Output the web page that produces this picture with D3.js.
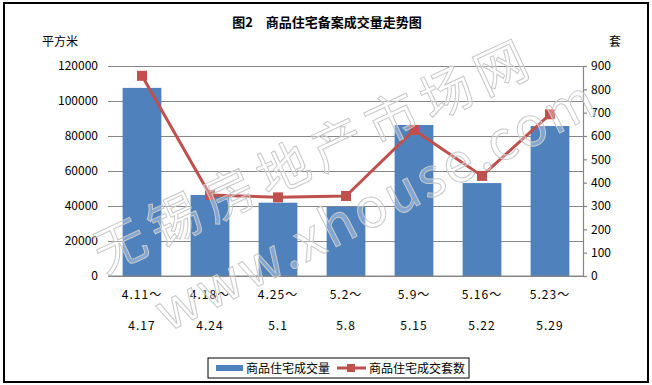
<!DOCTYPE html>
<html><head><meta charset="utf-8">
<script src="https://cdn.jsdelivr.net/npm/d3@7"></script>
<style>
body{margin:0;background:#fff;}
text{font-family:"Noto Sans CJK SC","DejaVu Sans",sans-serif;}
</style></head>
<body><svg id="c" width="652" height="385"></svg>
<script>
const categoriesTop = ["4.11～","4.18～","4.25～","5.2～","5.9～","5.16～","5.23～"];
const categoriesBottom = ["4.17","4.24","5.1","5.8","5.15","5.22","5.29"];
const areaValues = [107500, 46300, 41900, 39600, 86300, 53100, 85700];
const unitValues = [858, 347, 337, 343, 626, 429, 693];
const leftTicks = [0,20000,40000,60000,80000,100000,120000];
const rightTicks = [0,100,200,300,400,500,600,700,800,900];
const seriesNames = ["商品住宅成交量","商品住宅成交套数"];
const titleText = "图2　商品住宅备案成交量走势图";

const svg = d3.select("#c");
const L=108, R=584, T=66, B=276;
const blue="#4f81bd", red="#c0504d", grid="#868686";

svg.append("rect").attr("x",4).attr("y",3).attr("width",644).attr("height",379)
  .attr("fill","#fff").attr("stroke","#000").attr("stroke-width",2);

const x = d3.scaleBand().domain(d3.range(categoriesTop.length)).range([L,R]).paddingInner(0.43).paddingOuter(0.215);
const yL = d3.scaleLinear().domain([0,120000]).range([B,T]);
const yR = d3.scaleLinear().domain([0,900]).range([B,T]);

// gridlines + left labels
const ga = svg.append("g").attr("transform",`translate(${L},0)`)
  .call(d3.axisLeft(yL).tickValues(leftTicks).tickSize(-(R-L)).tickPadding(10).tickFormat(d3.format("d")));
ga.select(".domain").remove();
ga.selectAll(".tick line").attr("stroke",grid).attr("stroke-width",1.2);
ga.selectAll(".tick text").attr("font-size",12).attr("fill","#000").attr("font-family","'Liberation Sans',sans-serif");

// bars
svg.append("g").selectAll("rect").data(areaValues).join("rect")
  .attr("x",(d,i)=>x(i)).attr("width",x.bandwidth())
  .attr("y",d=>yL(d)).attr("height",d=>B-yL(d)).attr("fill",blue);

// right axis
const gr = svg.append("g").attr("transform",`translate(${R-1},0)`)
  .call(d3.axisRight(yR).tickValues(rightTicks).tickSize(4).tickPadding(4).tickFormat(d3.format("d")));
gr.select(".domain").attr("stroke",grid).attr("stroke-width",1.2);
gr.selectAll(".tick line").attr("stroke",grid).attr("stroke-width",1.2);
gr.selectAll(".tick text").attr("font-size",12).attr("fill","#000").attr("font-family","'Liberation Sans',sans-serif");

// bottom axis line
svg.append("line").attr("x1",L).attr("x2",R).attr("y1",B).attr("y2",B).attr("stroke",grid).attr("stroke-width",1.2);

// x labels
const cx = i => x(i)+x.bandwidth()/2;
svg.append("g").selectAll("text").data(categoriesTop).join("text")
  .attr("x",(d,i)=>cx(i)).attr("y",299).attr("text-anchor","middle")
  .attr("font-size",12).attr("letter-spacing",1).text(d=>d);
svg.append("g").selectAll("text").data(categoriesBottom).join("text")
  .attr("x",(d,i)=>cx(i)).attr("y",330).attr("text-anchor","middle")
  .attr("font-size",12).attr("letter-spacing",1).text(d=>d);

// line
const line = d3.line().x((d,i)=>cx(i)).y(d=>yR(d));
svg.append("path").datum(unitValues).attr("d",line).attr("fill","none").attr("stroke",red).attr("stroke-width",3);
svg.append("g").selectAll("rect").data(unitValues).join("rect")
  .attr("x",(d,i)=>cx(i)-5).attr("y",d=>yR(d)-5).attr("width",10).attr("height",10).attr("fill",red);

// watermark
const wm = svg.append("g").attr("pointer-events","none");
wm.append("text").attr("transform","translate(322,172) rotate(-25)").attr("text-anchor","middle")
  .attr("font-size",52).attr("fill","#fff").attr("fill-opacity",0.3).attr("stroke","#c8c8c8").attr("stroke-width",1)
  .attr("letter-spacing",8).text("无锡房地产市场网");
wm.append("text").attr("transform","translate(385,222) rotate(-27)").attr("text-anchor","middle")
  .attr("font-size",54).attr("fill","#fff").attr("fill-opacity",0.3).attr("stroke","#c8c8c8").attr("stroke-width",1)
  .attr("letter-spacing",3).text("www.xhouse.com");

// titles
svg.append("text").attr("x",327).attr("y",27).attr("text-anchor","middle").attr("font-size",13).attr("font-weight","bold").text(titleText);
svg.append("text").attr("x",42).attr("y",46).attr("font-size",12).text("平方米");
svg.append("text").attr("x",609).attr("y",46).attr("font-size",12).text("套");

// legend
const lg = svg.append("g");
lg.append("rect").attr("x",208).attr("y",358).attr("width",261).attr("height",20).attr("fill","#fff").attr("stroke","#000").attr("stroke-width",1);
lg.append("rect").attr("x",216).attr("y",365).attr("width",27).attr("height",6).attr("fill",blue);
lg.append("text").attr("x",246).attr("y",373).attr("font-size",12).text(seriesNames[0]);
lg.append("line").attr("x1",337).attr("x2",366).attr("y1",368).attr("y2",368).attr("stroke",red).attr("stroke-width",3);
lg.append("rect").attr("x",347).attr("y",364).attr("width",8).attr("height",8).attr("fill",red);
lg.append("text").attr("x",369).attr("y",373).attr("font-size",12).text(seriesNames[1]);
</script></body></html>
